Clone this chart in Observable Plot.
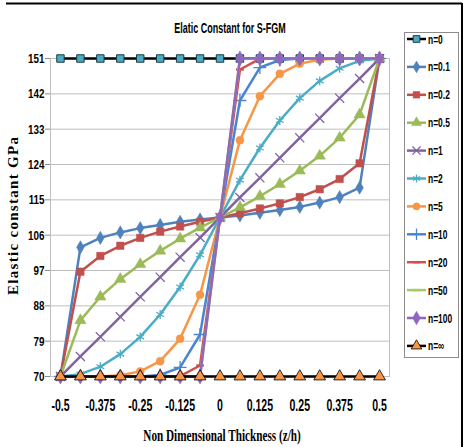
<!DOCTYPE html>
<html><head><meta charset="utf-8">
<script src="https://cdn.jsdelivr.net/npm/d3@7"></script>
<script src="https://cdn.jsdelivr.net/npm/@observablehq/plot@0.6"></script>
<style>body{margin:0;background:#fff} svg{display:block}</style>
</head><body><div id="chart"></div>
<script>
// ---- data ----
const zValues = [-0.5,-0.4375,-0.375,-0.3125,-0.25,-0.1875,-0.125,-0.0625,0,0.0625,0.125,0.1875,0.25,0.3125,0.375,0.4375,0.5];
const xTickValues = [-0.5,-0.375,-0.25,-0.125,0,0.125,0.25,0.375,0.5];
const yTickValues = [70,79,88,97,106,115,124,133,142,151];
const seriesNames = ["n=0","n=0.1","n=0.2","n=0.5","n=1","n=2","n=5","n=10","n=20","n=50","n=100","n=∞"];
const eN0    = [151,151,151,151,151,151,151,151,151,151,151,151,151,151,151,151,151];
const eN0_1  = [70,102.9,105.3,106.7,107.8,108.6,109.4,110.0,110.5,111.0,111.7,112.4,113.2,114.3,115.7,118.1,151];
const eN0_2  = [70,96.7,100.7,103.3,105.3,106.9,108.2,109.4,110.5,111.6,112.8,114.1,115.7,117.7,120.3,124.3,151];
const eN0_5  = [70,84.3,90.3,94.8,98.6,102.0,105.1,107.9,110.5,113.1,115.9,119.0,122.4,126.2,130.8,136.7,151];
const eN1    = [70,75.1,80.1,85.2,90.3,95.3,100.4,105.4,110.5,115.6,120.6,125.7,130.8,135.8,140.9,145.9,151];
const eN2    = [70,70.6,72.5,75.7,80.1,85.8,92.8,101.0,110.5,120.0,128.2,135.2,140.9,145.3,148.5,150.4,151];
const eN5    = [70,70.0,70.0,70.3,71.3,73.9,79.6,90.8,110.5,130.2,141.4,147.1,149.7,150.7,151.0,151,151];
const eN10   = [70,70,70,70,70.0,70.4,72.3,80.7,110.5,140.3,148.7,150.6,151.0,151,151,151,151];
const eN20   = [70,70,70,70,70,70,70.1,72.8,110.5,148.2,150.9,151,151,151,151,151,151];
const eN50   = [70,70,70,70,70,70,70,70.1,110.5,150.9,151,151,151,151,151,151,151];
const eN100  = [70,70,70,70,70,70,70,70,110.5,151,151,151,151,151,151,151,151];
const eNinf  = [70,70,70,70,70,70,70,70,70,70,70,70,70,70,70,70,70];
const seriesValues = [eN0,eN0_1,eN0_2,eN0_5,eN1,eN2,eN5,eN10,eN20,eN50,eN100,eNinf];

// ---- styles ----
const dash = {draw(ctx, size){ const w = Math.sqrt(size)*1.1; ctx.moveTo(-w/2,-1.2); ctx.lineTo(w/2,-1.2); ctx.lineTo(w/2,1.2); ctx.lineTo(-w/2,1.2); ctx.closePath(); }};
const styles = [
  {line:"#000", sym:d3.symbolSquare, fill:"#4BACC6", stroke:"#1a3a44", r:4.2, sw:1},
  {line:"#4F81BD", sym:d3.symbolDiamond, fill:"#4F81BD", stroke:"#4F81BD", r:4, sw:0.5},
  {line:"#C0504D", sym:d3.symbolSquare, fill:"#C0504D", stroke:"#C0504D", r:4.2, sw:0.5},
  {line:"#9BBB59", sym:d3.symbolTriangle, fill:"#9BBB59", stroke:"#9BBB59", r:4.2, sw:0.5},
  {line:"#8064A2", sym:d3.symbolTimes, fill:"none", stroke:"#8064A2", r:4.2, sw:1.3},
  {line:"#4BACC6", sym:d3.symbolAsterisk, fill:"none", stroke:"#4BACC6", r:4.2, sw:1.3},
  {line:"#F79646", sym:d3.symbolCircle, fill:"#F79646", stroke:"#F79646", r:4, sw:0.5},
  {line:"#4A86CF", sym:d3.symbolPlus, fill:"none", stroke:"#4A86CF", r:4.2, sw:1.3},
  {line:"#D0504E", sym:dash, fill:"#D0504E", stroke:"none", r:4, sw:0},
  {line:"#A9C86A", sym:dash, fill:"#A9C86A", stroke:"none", r:4, sw:0},
  {line:"#8E68BC", sym:d3.symbolDiamond, fill:"#8E68BC", stroke:"#8E68BC", r:4.6, sw:0.5},
  {line:"#000", sym:d3.symbolTriangle, fill:"#F79646", stroke:"#000", r:4.4, sw:0.8}
];

const table = [];
seriesNames.forEach((name, i) => zValues.forEach((z, j) => table.push({series:name, idx:i, z, e:seriesValues[i][j]})));

const sans = "'Liberation Sans',Arial,sans-serif";
const serif = "'Liberation Serif','DejaVu Serif',serif";

const seriesMarks = [];
seriesNames.forEach((name, i) => {
  const s = styles[i];
  const d = table.filter(r => r.idx === i);
  seriesMarks.push(Plot.line(d, {x:"z", y:"e", stroke:s.line, strokeWidth:2.5}));
  seriesMarks.push(Plot.dot(d, {x:"z", y:"e", symbol:s.sym, r:s.r, fill:s.fill, stroke:s.stroke, strokeWidth:s.sw}));
});

const svg = Plot.plot({
  width:466, height:447,
  marginLeft:50, marginRight:77, marginTop:58, marginBottom:71,
  x:{domain:[-0.53125,0.53125]},
  y:{domain:[70,151]},
  style:{fontFamily:sans, fontSize:"12px", fontWeight:"bold", color:"#000", background:"#fff", overflow:"visible"},
  marks:[
    Plot.gridY(yTickValues, {stroke:"#bfbfbf", strokeOpacity:1, strokeWidth:1}),
    Plot.frame({stroke:"#bfbfbf"}),
    Plot.axisY(yTickValues, {tickSize:5, tickPadding:1, label:null, stroke:"#8c8c8c", fontSize:13.5}),
    Plot.axisX(xTickValues, {tickSize:0, tickPadding:22, label:null, tickFormat:d => String(d), fontSize:17}),
    ...seriesMarks
  ]
});

document.getElementById("chart").appendChild(svg);
const g = d3.select(svg);

// horizontally condense tick labels (narrow font look) with a scale transform
function condense(sel, factor){
  sel.each(function(){ const t = this.getAttribute("transform") || ""; this.setAttribute("transform", `${t} scale(${factor},1)`); });
}
condense(g.selectAll('g[aria-label="y-axis tick label"] text'), 0.73);
condense(g.selectAll('g[aria-label="x-axis tick label"] text'), 0.62);

// outer frame
g.append("line").attr("x1",6).attr("x2",462).attr("y1",3.5).attr("y2",3.5).attr("stroke","#000").attr("stroke-width",2);
g.append("line").attr("x1",462).attr("x2",462).attr("y1",3).attr("y2",447).attr("stroke","#000").attr("stroke-width",2);
// title
g.append("text").attr("transform","translate(230,33) scale(0.6,1)").attr("text-anchor","middle")
  .attr("font-family",sans).attr("font-size",15).attr("font-weight","bold").text("Elatic Constant for S-FGM");
// y title
g.append("text").attr("transform","translate(18,216) rotate(-90)").attr("text-anchor","middle")
  .attr("font-family",serif).attr("font-size",15).attr("font-weight","bold")
  .attr("textLength",158).attr("lengthAdjust","spacing")
  .text("Elastic constant GPa");
// x title
g.append("text").attr("transform","translate(222,441) scale(0.7,1)").attr("text-anchor","middle")
  .attr("font-family",serif).attr("font-size",16).attr("font-weight","bold")
  .text("Non Dimensional Thickness (z/h)");
// legend
const lg = g.append("g");
lg.append("rect").attr("x",404.5).attr("y",32.5).attr("width",54).attr("height",325).attr("fill","#fff").attr("stroke","#8c8c8c");
seriesNames.forEach((name, i) => {
  const s = styles[i];
  const y = 39 + i*27.9;
  lg.append("line").attr("x1",407).attr("x2",426).attr("y1",y).attr("y2",y).attr("stroke",s.line).attr("stroke-width",2.5);
  lg.append("path").attr("transform",`translate(416.5,${y})`).attr("d", d3.symbol(s.sym, Math.PI*s.r*s.r*0.8)())
    .attr("fill",s.fill).attr("stroke",s.stroke).attr("stroke-width",s.sw);
  lg.append("text").attr("transform",`translate(428,${y+4.5}) scale(0.65,1)`).attr("text-anchor","start")
    .attr("font-family",sans).attr("font-size",13).attr("font-weight","bold").text(name);
});
</script>
</body></html>
